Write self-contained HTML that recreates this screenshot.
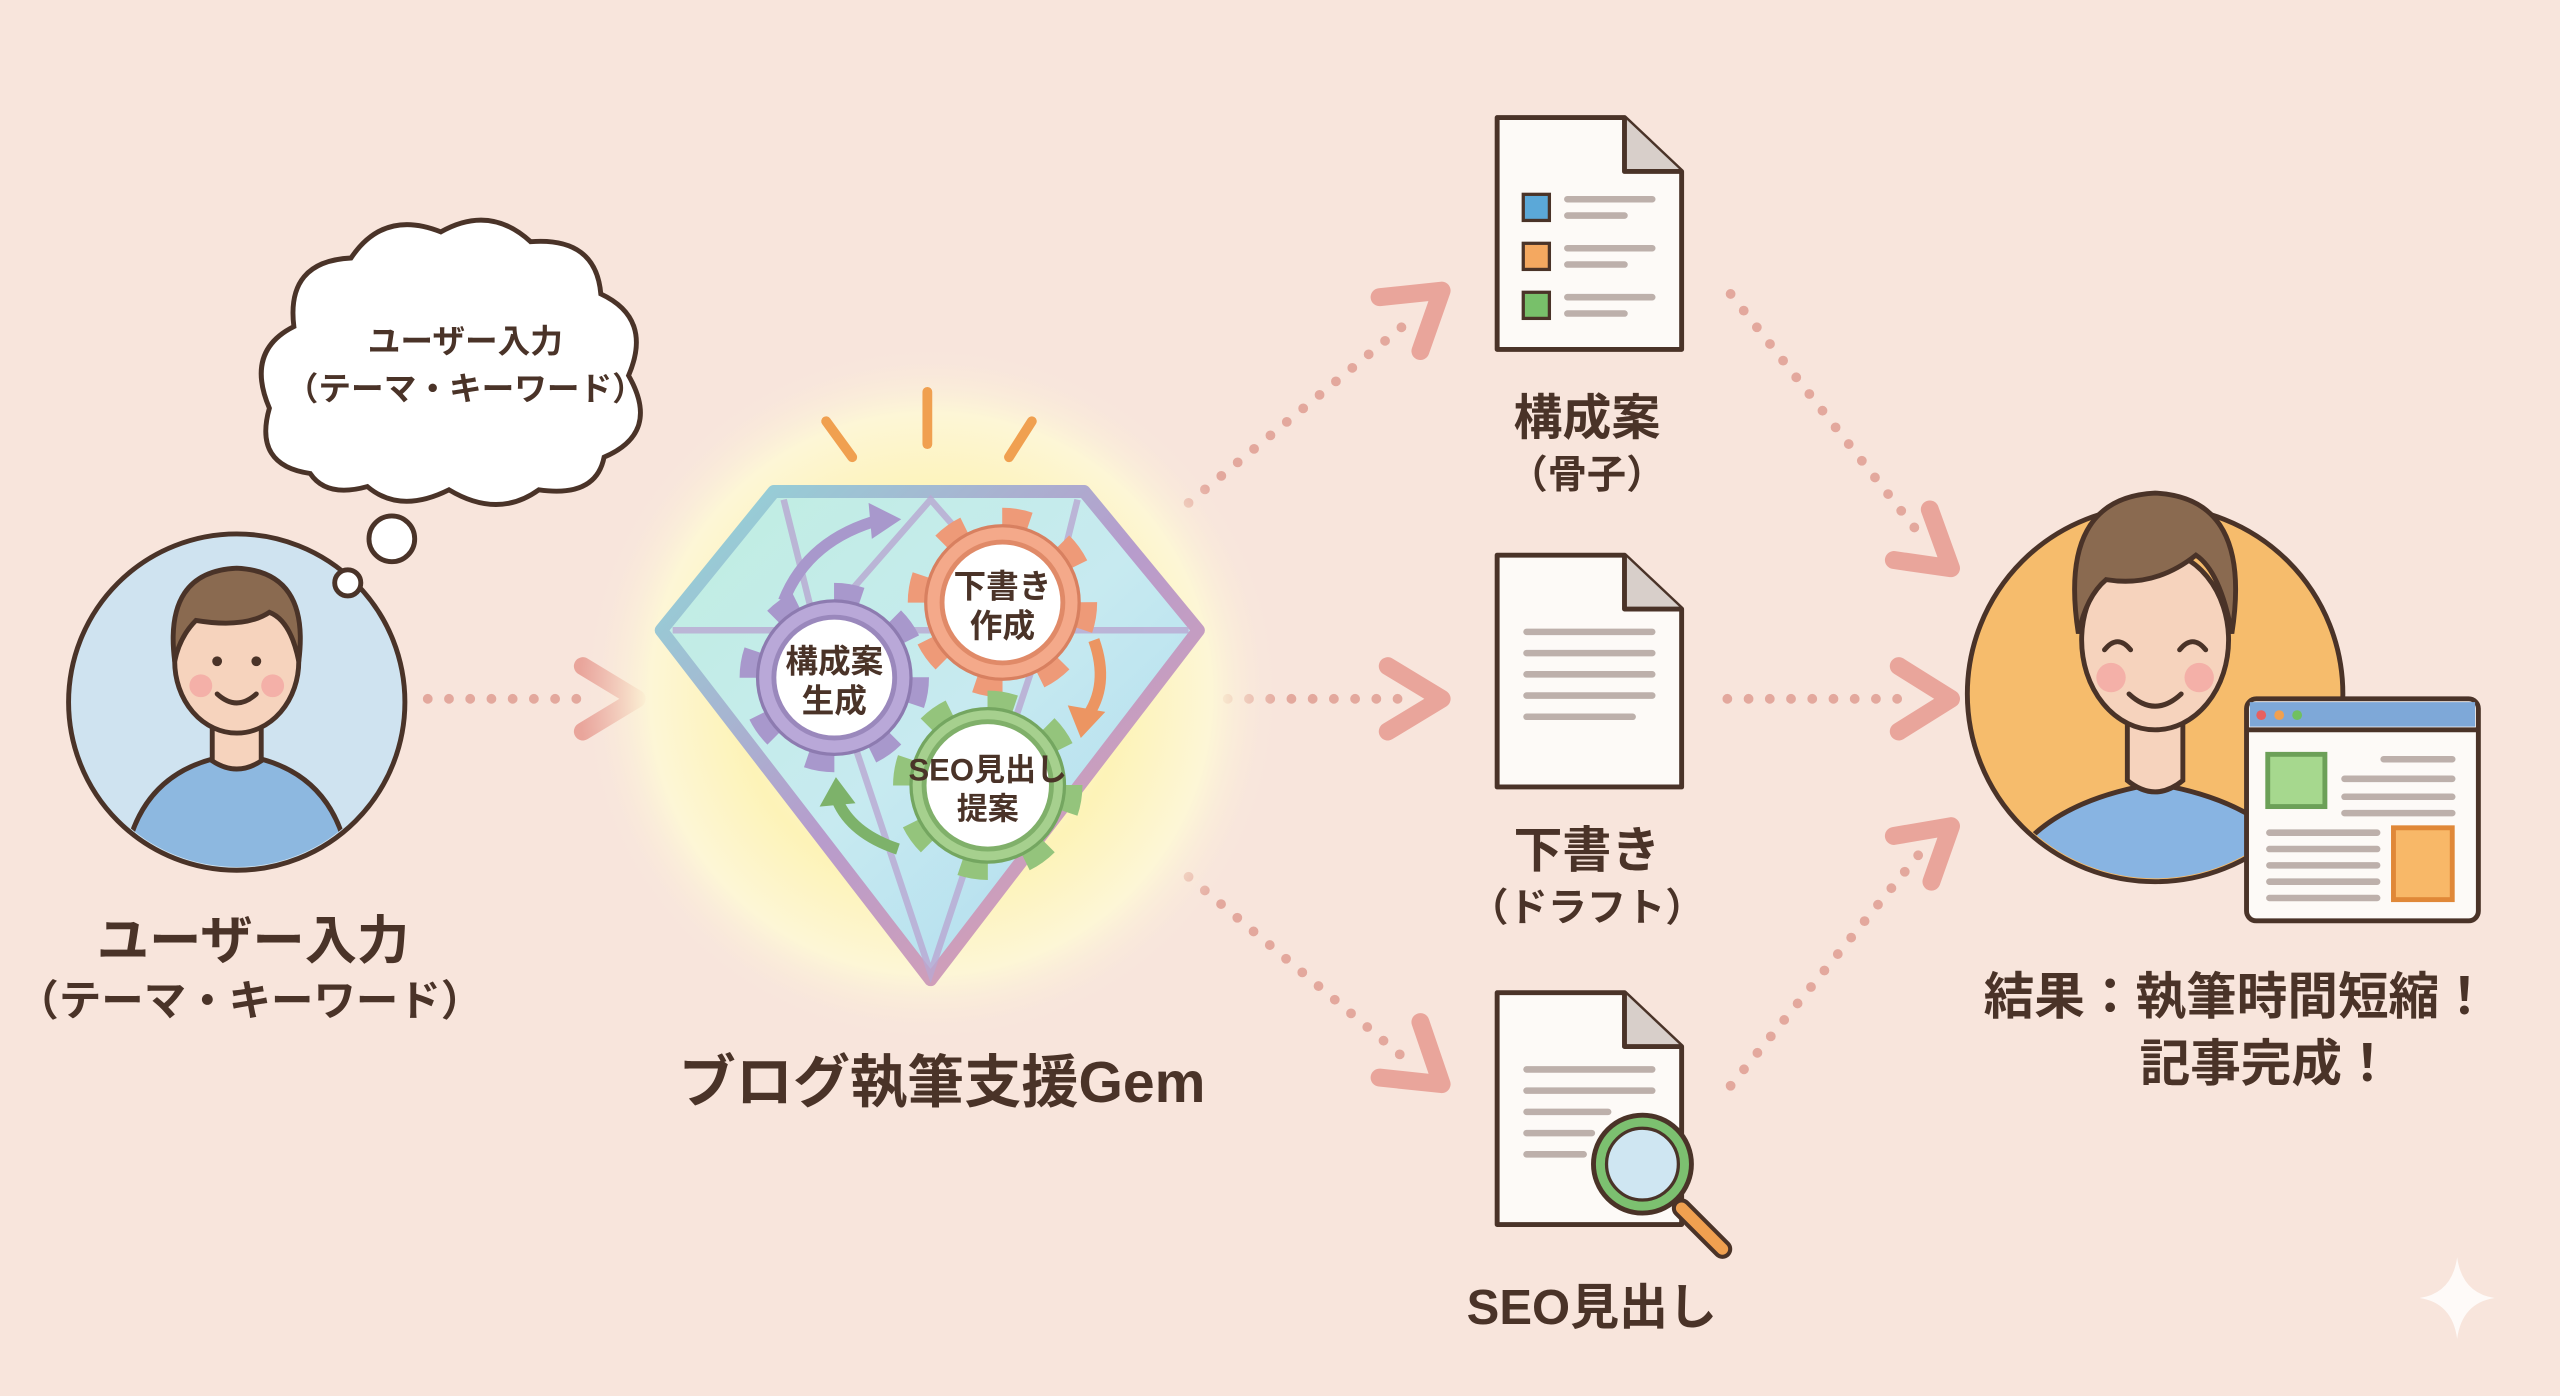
<!DOCTYPE html>
<html><head><meta charset="utf-8"><style>
html,body{margin:0;padding:0;background:#f8e5dc;}
svg{display:block;}
text{font-family:"Liberation Sans","Noto Sans CJK JP",sans-serif;font-weight:bold;fill:#4a3328;text-anchor:middle;}
</style></head><body>
<svg width="2560" height="1396" viewBox="0 0 1568 855" xmlns="http://www.w3.org/2000/svg">
<defs>
<radialGradient id="glow" cx="50%" cy="50%" r="50%">
<stop offset="0" stop-color="#fffbe0"/><stop offset="0.55" stop-color="#fdf3b8"/><stop offset="0.8" stop-color="#fdf6d6"/><stop offset="1" stop-color="#f8e5dc" stop-opacity="0"/>
</radialGradient>
<linearGradient id="gem" x1="0" y1="0" x2="1" y2="1">
<stop offset="0" stop-color="#bfeee0"/><stop offset="0.5" stop-color="#c7eaf0"/><stop offset="1" stop-color="#a9d8ee"/>
</linearGradient>
<linearGradient id="gemS" x1="0" y1="0" x2="1" y2="1">
<stop offset="0" stop-color="#8fd8d8"/><stop offset="0.5" stop-color="#b79ccc"/><stop offset="1" stop-color="#e5a0a8"/>
</linearGradient>
<clipPath id="c1"><circle cx="145" cy="430" r="101"/></clipPath>
<clipPath id="c2"><circle cx="1320" cy="425" r="113"/></clipPath>
</defs>
<rect width="1568" height="855" fill="#f8e5dc"/>

<!-- left user -->
<circle cx="145" cy="430" r="103" fill="#cfe3f0" stroke="#4a3328" stroke-width="3"/>
<g clip-path="url(#c1)">
<path d="M75 540 Q80 470 145 462 Q210 470 215 540 Z" fill="#8db8e0" stroke="#4a3328" stroke-width="3"/>
<path d="M130 440 L130 466 Q145 476 160 466 L160 440 Z" fill="#f6d3bd" stroke="#4a3328" stroke-width="3"/>
</g>
<ellipse cx="145" cy="405" rx="38" ry="44" fill="#f6d3bd" stroke="#4a3328" stroke-width="3"/>
<path d="M107 405 Q100 350 145 348 Q190 350 183 405 Q178 380 165 375 Q150 385 120 380 Q110 390 107 405Z" fill="#8a6a50" stroke="#4a3328" stroke-width="3"/>
<circle cx="133" cy="405" r="3" fill="#4a3328"/><circle cx="157" cy="405" r="3" fill="#4a3328"/>
<circle cx="123" cy="420" r="7" fill="#f4b0a8"/><circle cx="167" cy="420" r="7" fill="#f4b0a8"/>
<path d="M133 425 Q145 436 157 425" fill="none" stroke="#4a3328" stroke-width="3" stroke-linecap="round"/>

<!-- cloud -->
<path d="M190 290 Q155 285 165 250 Q150 215 180 200 Q175 160 215 158 Q235 128 270 142 Q300 125 325 148 Q365 145 368 180 Q400 195 385 230 Q405 265 370 280 Q365 305 330 300 Q305 318 275 300 Q245 315 225 298 Q200 305 190 290Z" fill="#fff" stroke="#4a3328" stroke-width="3"/>
<circle cx="240" cy="330" r="14" fill="#fff" stroke="#4a3328" stroke-width="3"/>
<circle cx="213" cy="357" r="8" fill="#fff" stroke="#4a3328" stroke-width="3"/>
<text x="285" y="216" font-size="20">ユーザー入力</text>
<text x="285" y="245" font-size="20">（テーマ・キーワード）</text>

<text x="155" y="587" font-size="32">ユーザー入力</text>
<text x="153" y="622" font-size="26">（テーマ・キーワード）</text>

<!-- arrows -->
<g stroke="#e3a89d" stroke-width="6" stroke-linecap="round" fill="none">
<path d="M262 428 L365 428" stroke-dasharray="0 13"/>
<path d="M752 428 L860 428" stroke-dasharray="0 13"/>
<path d="M728 308 L865 195" stroke-dasharray="0 13"/>
<path d="M728 537 L860 648" stroke-dasharray="0 13"/>
<path d="M1058 428 L1170 428" stroke-dasharray="0 13"/>
<path d="M1060 180 L1178 330" stroke-dasharray="0 13"/>
<path d="M1060 665 L1178 520" stroke-dasharray="0 13"/>
</g>
<g stroke="#e9a59b" stroke-width="11" stroke-linecap="round" stroke-linejoin="round" fill="none">
<path d="M357 408 L390 428 L357 448"/>
<path d="M850 408 L883 428 L850 448"/>
<path d="M845 182 L883 178 L870 215"/>
<path d="M845 660 L883 664 L870 626"/>
<path d="M1163 408 L1195 428 L1163 448"/>
<path d="M1160 343 L1195 348 L1182 312"/>
<path d="M1160 512 L1195 506 L1183 540"/>
</g>

<!-- gem -->
<circle cx="570" cy="425" r="215" fill="url(#glow)"/>
<g stroke="#f0a050" stroke-width="6" stroke-linecap="round">
<path d="M506 258 L522 280"/><path d="M568 240 L568 272"/><path d="M632 258 L618 280"/>
</g>
<path d="M474 301 L664 301 L734 386 L570 600 L405 386 Z" fill="url(#gem)" stroke="url(#gemS)" stroke-width="8" stroke-linejoin="round"/>
<g stroke="#b9a8d2" stroke-width="4" fill="none" opacity="0.8">
<path d="M412 386 L728 386"/><path d="M480 306 L500 386 L570 596 L640 386 L660 306"/><path d="M500 386 L570 306 L640 386"/>
</g>
<!-- cycle arrows -->
<path d="M480 368 Q495 330 540 318" fill="none" stroke="#a898cc" stroke-width="7"/>
<path d="M532 308 L552 318 L534 330 Z" fill="#a898cc"/>
<path d="M670 392 Q680 420 665 440" fill="none" stroke="#ec9562" stroke-width="7"/>
<path d="M654 432 L662 452 L677 436 Z" fill="#ec9562"/>
<path d="M550 520 Q520 510 512 488" fill="none" stroke="#7db26a" stroke-width="7"/>
<path d="M502 494 L512 476 L524 492 Z" fill="#7db26a"/>
<!-- gears -->
<g transform="translate(511,415)">
<circle r="52" fill="none" stroke="#a898cc" stroke-width="12" stroke-dasharray="17 23.8"/>
<circle r="47" fill="#b9a8d8" stroke="#8d7bb0" stroke-width="2"/>
<circle r="37" fill="#fff" stroke="#9a88bc" stroke-width="3"/>
<text y="-3" font-size="20">構成案</text><text y="21" font-size="20">生成</text>
</g>
<g transform="translate(614,369)">
<circle r="52" fill="none" stroke="#ee9a78" stroke-width="12" stroke-dasharray="17 23.8"/>
<circle r="47" fill="#f4a98a" stroke="#d88060" stroke-width="2"/>
<circle r="37" fill="#fff" stroke="#e08a68" stroke-width="3"/>
<text y="-3" font-size="20">下書き</text><text y="21" font-size="20">作成</text>
</g>
<g transform="translate(605,481)">
<circle r="52" fill="none" stroke="#94c47c" stroke-width="12" stroke-dasharray="17 23.8"/>
<circle r="47" fill="#a6d08e" stroke="#74a660" stroke-width="2"/>
<circle r="39" fill="#fff" stroke="#80b06a" stroke-width="3"/>
<text y="-3" font-size="19">SEO見出し</text><text y="21" font-size="19">提案</text>
</g>
<text x="577" y="675" font-size="35">ブログ執筆支援Gem</text>

<!-- docs -->
<g stroke="#4a3328" stroke-width="3" stroke-linejoin="round">
<path d="M917 72 L995 72 L1030 105 L1030 214 L917 214 Z" fill="#fdfaf7"/>
<path d="M995 72 L995 105 L1030 105" fill="#d8cfca"/>
<path d="M917 340 L995 340 L1030 373 L1030 482 L917 482 Z" fill="#fdfaf7"/>
<path d="M995 340 L995 373 L1030 373" fill="#d8cfca"/>
<path d="M917 608 L995 608 L1030 641 L1030 750 L917 750 Z" fill="#fdfaf7"/>
<path d="M995 608 L995 641 L1030 641" fill="#d8cfca"/>
</g>
<rect x="933" y="119" width="16" height="16" fill="#5ba8d8" stroke="#4a3328" stroke-width="2"/>
<rect x="933" y="149" width="16" height="16" fill="#f4a860" stroke="#4a3328" stroke-width="2"/>
<rect x="933" y="179" width="16" height="16" fill="#78c06a" stroke="#4a3328" stroke-width="2"/>
<g stroke="#bdb0ab" stroke-width="4" stroke-linecap="round">
<path d="M960 122 L1012 122"/><path d="M960 132 L995 132"/>
<path d="M960 152 L1012 152"/><path d="M960 162 L995 162"/>
<path d="M960 182 L1012 182"/><path d="M960 192 L995 192"/>
<path d="M935 387 L1012 387"/><path d="M935 400 L1012 400"/><path d="M935 413 L1012 413"/><path d="M935 426 L1012 426"/><path d="M935 439 L1000 439"/>
<path d="M935 655 L1012 655"/><path d="M935 668 L1012 668"/><path d="M935 681 L985 681"/><path d="M935 694 L975 694"/><path d="M935 707 L970 707"/>
</g>
<path d="M1030 740 L1055 765" stroke="#4a3328" stroke-width="12" stroke-linecap="round"/>
<path d="M1030 740 L1055 765" stroke="#f0a050" stroke-width="7" stroke-linecap="round"/>
<circle cx="1006" cy="713" r="30" fill="#7cc070" stroke="#4a3328" stroke-width="3"/>
<circle cx="1006" cy="713" r="22" fill="#cfe6f2" stroke="#4a3328" stroke-width="2"/>
<text x="972" y="266" font-size="30">構成案</text>
<text x="972" y="299" font-size="24">（骨子）</text>
<text x="972" y="531" font-size="30">下書き</text>
<text x="972" y="564" font-size="24">（ドラフト）</text>
<text x="975" y="811" font-size="30">SEO見出し</text>

<!-- result person -->
<circle cx="1320" cy="425" r="115" fill="#f6bc6c" stroke="#4a3328" stroke-width="3"/>
<g clip-path="url(#c2)">
<path d="M1220 560 Q1230 495 1320 480 Q1410 495 1420 560 Z" fill="#88b4e2" stroke="#4a3328" stroke-width="3"/>
<path d="M1303 440 L1303 478 Q1320 492 1337 478 L1337 440 Z" fill="#f6d3bd" stroke="#4a3328" stroke-width="3"/>
</g>
<ellipse cx="1320" cy="392" rx="45" ry="55" fill="#f6d3bd" stroke="#4a3328" stroke-width="3"/>
<path d="M1273 388 Q1260 305 1320 302 Q1380 305 1367 388 Q1360 350 1345 340 Q1320 360 1290 355 Q1278 365 1273 388Z" fill="#8a6a50" stroke="#4a3328" stroke-width="3"/>
<path d="M1289 398 Q1297 388 1305 398 M1335 398 Q1343 388 1351 398" fill="none" stroke="#4a3328" stroke-width="3" stroke-linecap="round"/>
<circle cx="1293" cy="415" r="9" fill="#f4b0a8"/><circle cx="1347" cy="415" r="9" fill="#f4b0a8"/>
<path d="M1304 425 Q1320 440 1336 425" fill="none" stroke="#4a3328" stroke-width="3" stroke-linecap="round"/>
<rect x="1376" y="428" width="142" height="136" rx="6" fill="#fdfaf7" stroke="#4a3328" stroke-width="3"/>
<path d="M1378 430 L1516 430 L1516 445 L1378 445 Z" fill="#7ea8d8"/>
<path d="M1376 447 L1518 447" stroke="#4a3328" stroke-width="3"/>
<circle cx="1385" cy="438" r="3" fill="#e86060"/><circle cx="1396" cy="438" r="3" fill="#f0a050"/><circle cx="1407" cy="438" r="3" fill="#70c060"/>
<rect x="1389" y="462" width="35" height="32" fill="#a6d88e" stroke="#6ca058" stroke-width="3"/>
<rect x="1466" y="507" width="36" height="44" fill="#f8b868" stroke="#e08838" stroke-width="3"/>
<g stroke="#bdb0ab" stroke-width="4" stroke-linecap="round">
<path d="M1460 465 L1502 465"/><path d="M1436 477 L1502 477"/><path d="M1436 488 L1502 488"/><path d="M1436 498 L1502 498"/>
<path d="M1390 510 L1456 510"/><path d="M1390 520 L1456 520"/><path d="M1390 530 L1456 530"/><path d="M1390 540 L1456 540"/><path d="M1390 550 L1456 550"/>
</g>
<text x="1370" y="621" font-size="31">結果：執筆時間短縮！</text>
<text x="1388" y="662" font-size="31">記事完成！</text>

<path d="M1505 770 Q1508 792 1528 795 Q1508 798 1505 820 Q1502 798 1482 795 Q1502 792 1505 770Z" fill="#fff" opacity="0.8"/>
</svg>
</body></html>
